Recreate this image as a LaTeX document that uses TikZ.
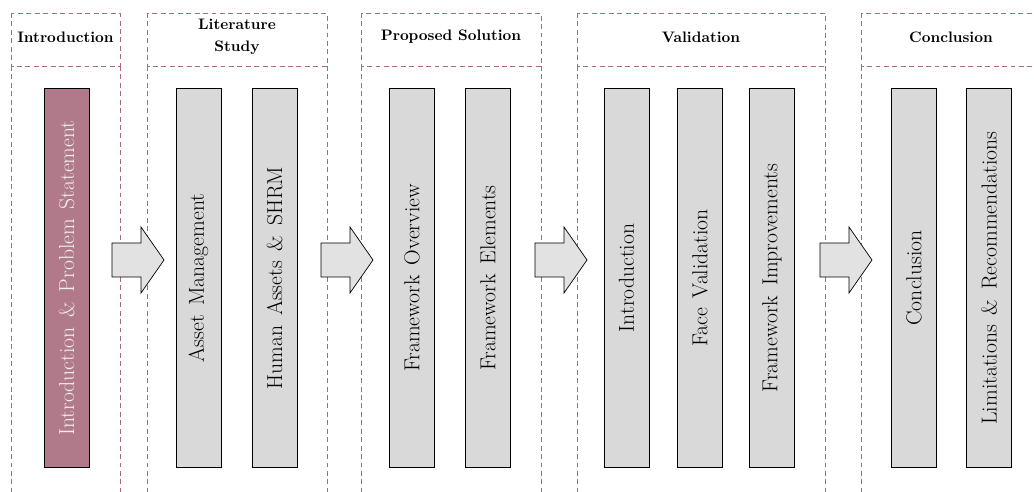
\documentclass[tikz,border=0pt]{standalone}
\definecolor{phaseline}{RGB}{170,105,130}
\definecolor{introfill}{RGB}{176,122,139}
\definecolor{stepgray}{RGB}{217,217,217}
\definecolor{arrowgray}{RGB}{226,226,226}
\usepackage{amsmath}
\usepackage{tikz}
\newcommand{\barfont}{\fontsize{15.4}{18}\selectfont\spaceskip=0.45em plus 0.1em\relax}

\begin{document}
\begin{tikzpicture}[x=0.025cm,y=-0.025cm]

%
% Styles
%
\tikzstyle{phase}    = [draw=phaseline,dash pattern=on 3.5pt off 2.5pt,line width=0.6pt]
\tikzstyle{title}    = [font=\fontsize{10.8}{15.5}\selectfont\bfseries,align=center]
\tikzstyle{stepbar}  = [draw=black,fill=stepgray,line width=0.7pt,rotate=90,minimum width=9.45cm,minimum height=1.125cm,inner sep=0pt,font=\barfont]
\tikzstyle{introbar} = [stepbar,fill=introfill,text=white!88!gray]
\tikzstyle{flow}     = [draw=black,fill=arrowgray,line width=0.5pt]

\useasboundingbox (0,0) rectangle (1034,492);

% phase frames
\foreach \l/\r in {11/120,147/327,361/541,577/825,861/1041}{
  \draw[phase] (\l,13) rectangle (\r,66);
  \draw[phase] (\l,66) -- (\l,500);
  \draw[phase] (\r,66) -- (\r,500);
}

\node[title] (intro) at ( 65.5,37) {Introduction};
\node[title] (lit)   at (237,  37) {Literature\\Study};
\node[title] (prop)  at (451,  37) {Proposed Solution};
\node[title] (valid) at (701,  37) {Validation};
\node[title] (concl) at (951,  37) {Conclusion};

% steps
\node[introbar] (ips) at ( 66.5,278) {Introduction \& Problem Statement};

\node[stepbar] (am)   at (198.5,278) {Asset Management};
\node[stepbar] (has)  at (274.5,278) {Human Assets \& SHRM};

\node[stepbar] (fo)   at (412,  278) {Framework Overview};
\node[stepbar] (fe)   at (488,  278) {Framework Elements};

\node[stepbar] (vi)   at (626.5,278) {Introduction};
\node[stepbar] (fv)   at (700,  278) {Face Validation};
\node[stepbar] (fi)   at (772,  278) {Framework Improvements};

\node[stepbar] (cc)   at (914,  278) {Conclusion};
\node[stepbar] (lr)   at (989,  278) {Limitations \& Recommendations};

% phase arrows
\foreach \x in {112,321,535,820}
  \draw[flow] (\x,243) -- (\x+29,243) -- (\x+29,227) -- (\x+52,260)
              -- (\x+29,293) -- (\x+29,277) -- (\x,277) -- cycle;

\end{tikzpicture}
\end{document}
